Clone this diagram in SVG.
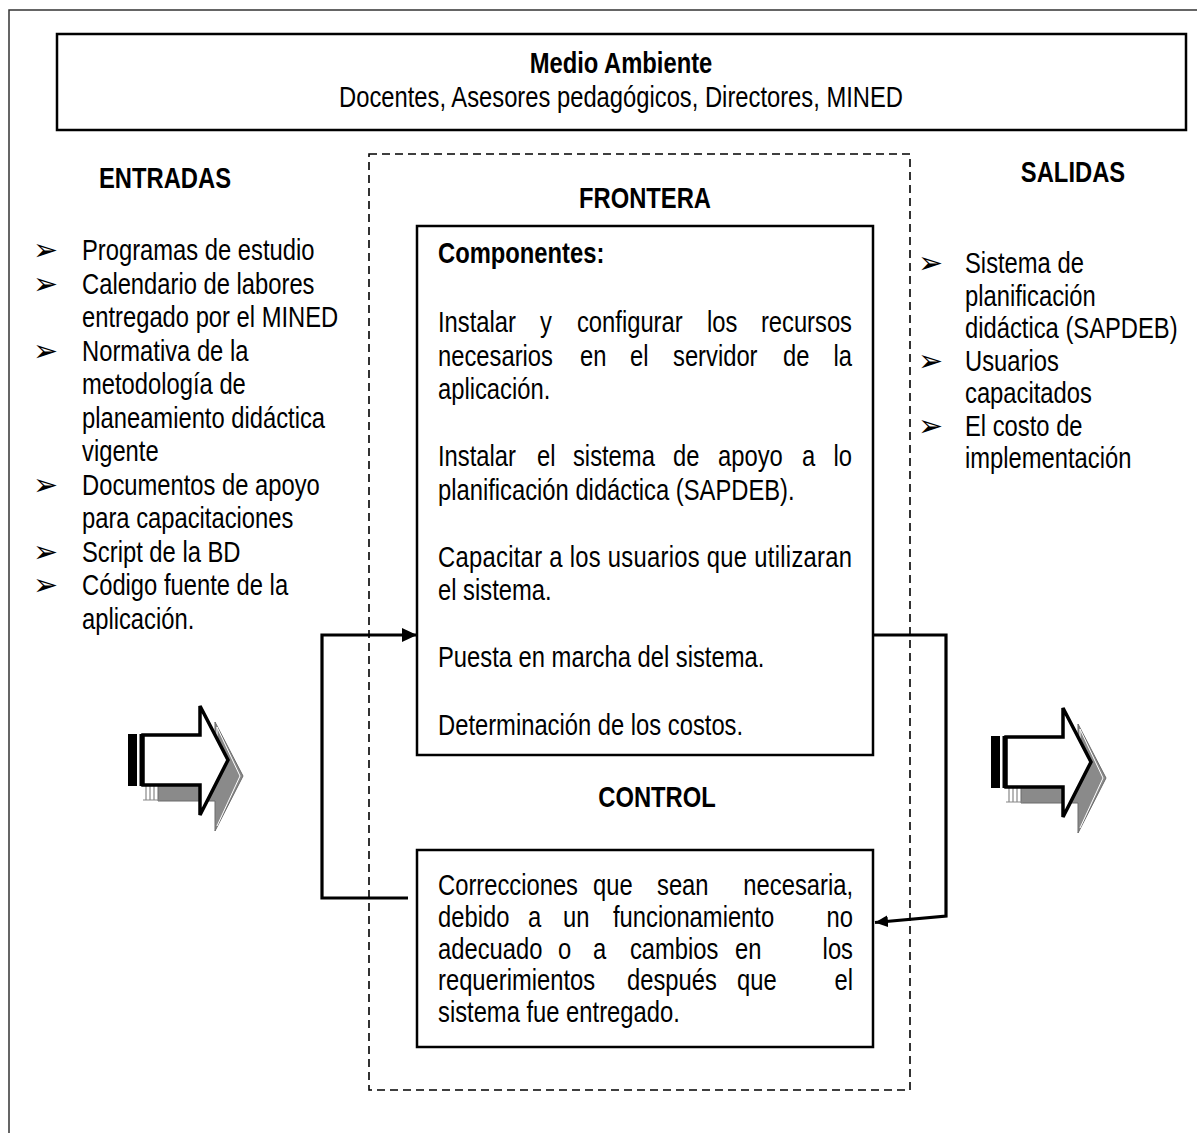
<svg xmlns="http://www.w3.org/2000/svg" width="1197" height="1133" viewBox="0 0 1197 1133">
<style>
.t{font-family:"Liberation Sans",Arial,sans-serif;font-size:29px;fill:#000}
.b{font-weight:bold}
.m{text-anchor:middle}
.e{text-anchor:end}
.bul{font-family:"DejaVu Sans",sans-serif;font-size:30px;fill:#000}
.box{fill:#fff;stroke:#000;stroke-width:2.5}
.conn{fill:none;stroke:#000;stroke-width:3.2}
</style>
<defs>
<marker id="ah" markerUnits="userSpaceOnUse" markerWidth="16" markerHeight="14" refX="15" refY="7" orient="auto"><path d="M0,0 L15,7 L0,14 z" fill="#000"/></marker>
<marker id="ah2" markerUnits="userSpaceOnUse" markerWidth="14" markerHeight="12" refX="13" refY="6" orient="auto"><path d="M0,0 L13,6 L0,12 z" fill="#000"/></marker>
<g id="bigarrow">
<path d="M158,751 H215 V722 L243,776 L215,831 V801 H158 Z" fill="#8a8a8a" stroke="#6a6a6a" stroke-width="1"/>
<path d="M160,753 H217 V727 L240,776 L217,826" fill="none" stroke="#fff" stroke-width="1"/>
<path d="M146,786 V800 M150,786 V800 M154,786 V800 M143,800 H160" stroke="#888" stroke-width="1.2" fill="none"/>
<rect x="128" y="734" width="9" height="52" fill="#000"/>
<rect x="139.5" y="734" width="3.5" height="52" fill="#000"/>
<path d="M143,735 H200 V706 L228,760 L200,815 V785 H143 Z" fill="#fff" stroke="#000" stroke-width="3.5" stroke-linejoin="miter"/>
</g>
</defs>

<rect x="9" y="10" width="1300" height="1300" fill="none" stroke="#333" stroke-width="1.5"/>

<g id="medio-ambiente">
<rect class="box" x="57" y="34" width="1129" height="96"/>
<text class="t b m" transform="translate(621,73) scale(.82,1)">Medio Ambiente</text>
<text class="t m" transform="translate(621,107) scale(.82,1)">Docentes, Asesores pedagógicos, Directores, MINED</text>
</g>

<g id="frontera">
<rect x="369" y="154" width="541" height="936" fill="none" stroke="#000" stroke-width="1.6" stroke-dasharray="8,5"/>
<text class="t b m" transform="translate(645,208) scale(.82,1)">FRONTERA</text>
</g>

<g id="entradas">
<text class="t b m" transform="translate(165,188) scale(.82,1)">ENTRADAS</text>
<text class="bul" x="33" y="260">➢</text>
<text class="bul" x="33" y="293.5">➢</text>
<text class="bul" x="33" y="360.5">➢</text>
<text class="bul" x="33" y="494.5">➢</text>
<text class="bul" x="33" y="561.5">➢</text>
<text class="bul" x="33" y="595">➢</text>
<text class="t" transform="translate(82,260) scale(.82,1)">Programas de estudio</text>
<text class="t" transform="translate(82,293.5) scale(.82,1)">Calendario de labores</text>
<text class="t" transform="translate(82,327) scale(.82,1)">entregado por el MINED</text>
<text class="t" transform="translate(82,360.5) scale(.82,1)">Normativa de la</text>
<text class="t" transform="translate(82,394) scale(.82,1)">metodología de</text>
<text class="t" transform="translate(82,427.5) scale(.82,1)">planeamiento didáctica</text>
<text class="t" transform="translate(82,461) scale(.82,1)">vigente</text>
<text class="t" transform="translate(82,494.5) scale(.82,1)">Documentos de apoyo</text>
<text class="t" transform="translate(82,528) scale(.82,1)">para capacitaciones</text>
<text class="t" transform="translate(82,561.5) scale(.82,1)">Script de la BD</text>
<text class="t" transform="translate(82,595) scale(.82,1)">Código fuente de la</text>
<text class="t" transform="translate(82,628.5) scale(.82,1)">aplicación.</text>
</g>

<g id="salidas">
<text class="t b m" transform="translate(1073,182) scale(.82,1)">SALIDAS</text>
<text class="bul" x="918" y="273">➢</text>
<text class="bul" x="918" y="371">➢</text>
<text class="bul" x="918" y="436">➢</text>
<text class="t" transform="translate(965,273) scale(.82,1)">Sistema de</text>
<text class="t" transform="translate(965,306) scale(.82,1)">planificación</text>
<text class="t" transform="translate(965,338) scale(.82,1)">didáctica (SAPDEB)</text>
<text class="t" transform="translate(965,371) scale(.82,1)">Usuarios</text>
<text class="t" transform="translate(965,403) scale(.82,1)">capacitados</text>
<text class="t" transform="translate(965,436) scale(.82,1)">El costo de</text>
<text class="t" transform="translate(965,468) scale(.82,1)">implementación</text>
</g>

<g id="arrow-entradas"><use href="#bigarrow"/></g>
<g id="arrow-salidas"><use href="#bigarrow" transform="translate(863,2)"/></g>

<g id="componentes">
<rect class="box" x="417" y="226" width="456" height="529"/>
<text class="t b" transform="translate(438,263) scale(.82,1)">Componentes:</text>
<text class="t" transform="translate(438,332) scale(.82,1)"><tspan x="0">Instalar</tspan><tspan x="124.4">y</tspan><tspan x="169.5">configurar</tspan><tspan x="328">los</tspan><tspan x="504.9" class="e">recursos</tspan></text>
<text class="t" transform="translate(438,365.5) scale(.82,1)"><tspan x="0">necesarios</tspan><tspan x="173.2">en</tspan><tspan x="234.1">el</tspan><tspan x="286.6">servidor</tspan><tspan x="420.7">de</tspan><tspan x="504.9" class="e">la</tspan></text>
<text class="t" transform="translate(438,399) scale(.82,1)">aplicación.</text>
<text class="t" transform="translate(438,466) scale(.82,1)"><tspan x="0">Instalar</tspan><tspan x="120.7">el</tspan><tspan x="164.6">sistema</tspan><tspan x="286.6">de</tspan><tspan x="341.5">apoyo</tspan><tspan x="443.9">a</tspan><tspan x="504.9" class="e">lo</tspan></text>
<text class="t" transform="translate(438,500) scale(.82,1)">planificación didáctica (SAPDEB).</text>
<text class="t" transform="translate(438,567) scale(.82,1)" textLength="504.9" lengthAdjust="spacing">Capacitar a los usuarios que utilizaran</text>
<text class="t" transform="translate(438,600) scale(.82,1)">el sistema.</text>
<text class="t" transform="translate(438,667) scale(.82,1)">Puesta en marcha del sistema.</text>
<text class="t" transform="translate(438,735) scale(.82,1)">Determinación de los costos.</text>
</g>

<g id="control">
<text class="t b m" transform="translate(657,807) scale(.82,1)">CONTROL</text>
<rect class="box" x="417" y="850" width="456" height="197"/>
<text class="t" transform="translate(438,895) scale(.82,1)"><tspan x="0">Correcciones</tspan><tspan x="189">que</tspan><tspan x="267.1">sean</tspan><tspan x="506.1" class="e">necesaria,</tspan></text>
<text class="t" transform="translate(438,927) scale(.82,1)"><tspan x="0">debido</tspan><tspan x="109.8">a</tspan><tspan x="152.4">un</tspan><tspan x="213.4">funcionamiento</tspan><tspan x="506.1" class="e">no</tspan></text>
<text class="t" transform="translate(438,958.5) scale(.82,1)"><tspan x="0">adecuado</tspan><tspan x="146.3">o</tspan><tspan x="189">a</tspan><tspan x="234.1">cambios</tspan><tspan x="362.2">en</tspan><tspan x="506.1" class="e">los</tspan></text>
<text class="t" transform="translate(438,990) scale(.82,1)"><tspan x="0">requerimientos</tspan><tspan x="230.5">después</tspan><tspan x="364.6">que</tspan><tspan x="506.1" class="e">el</tspan></text>
<text class="t" transform="translate(438,1022) scale(.82,1)">sistema fue entregado.</text>
</g>

<g id="connectors">
<path class="conn" d="M408,898 H322 V635 H417" marker-end="url(#ah)"/>
<path class="conn" d="M873,635 H946 V916 L875,922.5" marker-end="url(#ah2)"/>
</g>
</svg>
